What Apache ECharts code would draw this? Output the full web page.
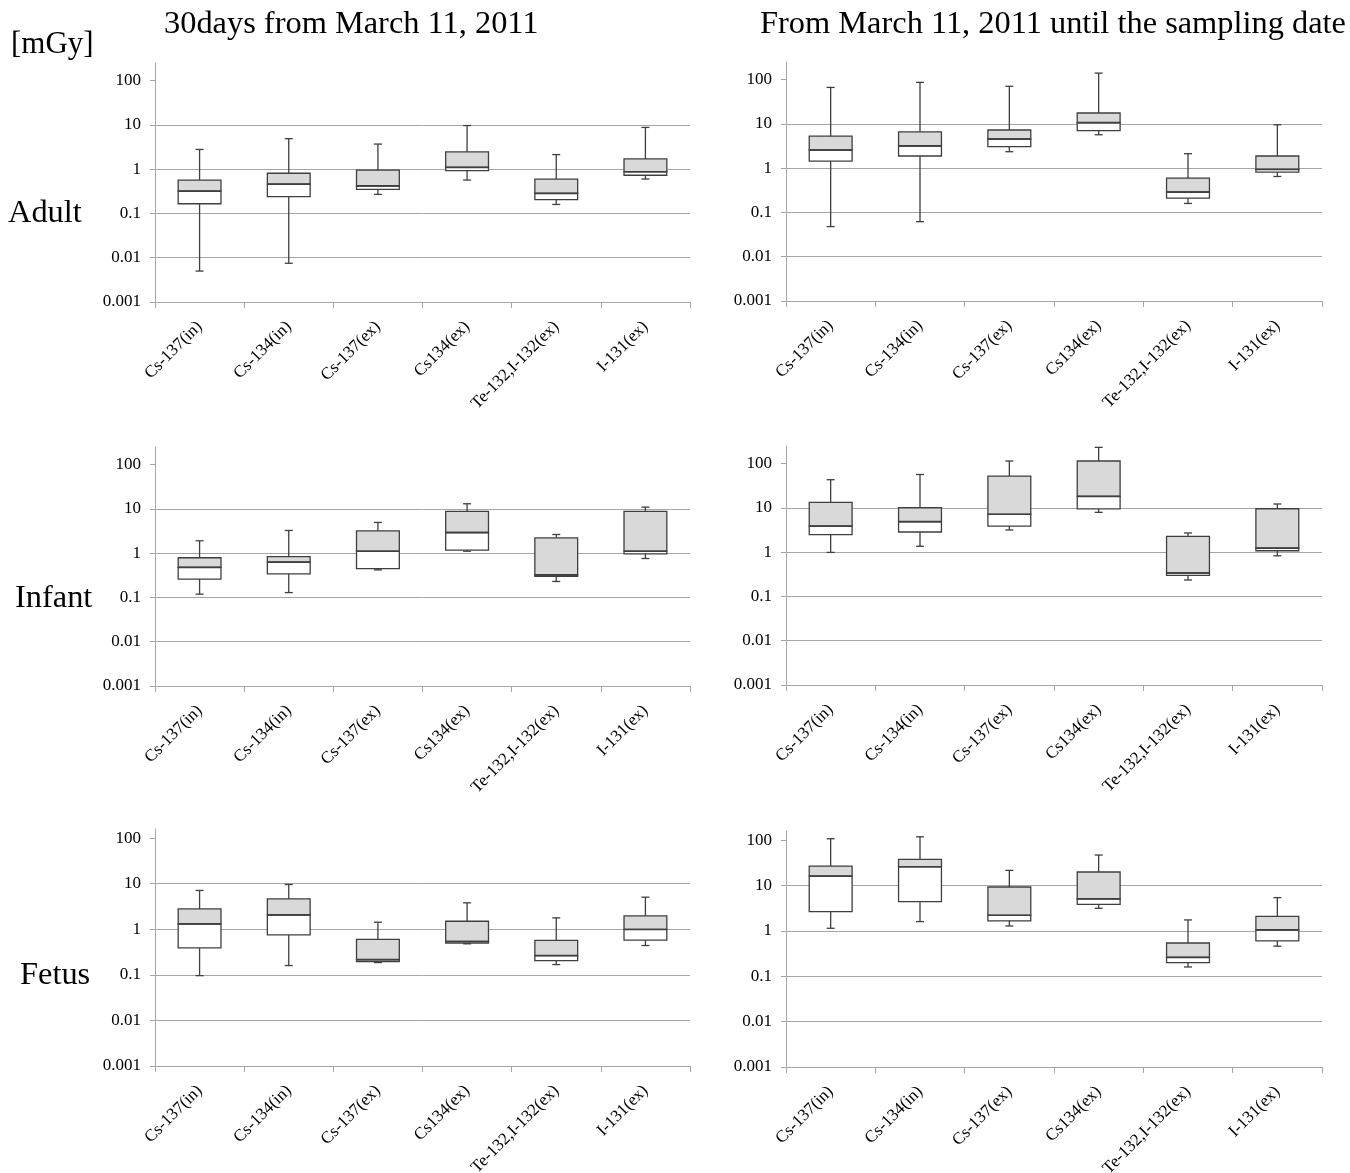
<!DOCTYPE html>
<html><head><meta charset="utf-8">
<script src="https://cdn.jsdelivr.net/npm/echarts@6/dist/echarts.min.js"></script>
<style>html,body{margin:0;padding:0;background:#fff}#c{width:1350px;height:1173px}</style>
</head><body><div id="c"></div>
<script>
const categories = ['Cs-137(in)','Cs-134(in)','Cs-137(ex)','Cs134(ex)','Te-132,I-132(ex)','I-131(ex)'];
const yTickValues = [0.001, 0.01, 0.1, 1, 10, 100];
const columnTitles = ['30days from March 11, 2011', 'From March 11, 2011 until the sampling date'];
const rowLabels = ['Adult', 'Infant', 'Fetus'];
const unitLabel = '[mGy]';

// each row: [min, Q1, median, Q3, max]
const adult30 = [
  [0.005, 0.166, 0.32, 0.57, 2.8],
  [0.0075, 0.24, 0.46, 0.81, 4.9],
  [0.27, 0.35, 0.42, 0.95, 3.7],
  [0.57, 0.93, 1.1, 2.46, 9.7],
  [0.16, 0.205, 0.285, 0.60, 2.14],
  [0.60, 0.73, 0.88, 1.71, 8.8]
];
const adultAll = [
  [0.048, 1.45, 2.58, 5.3, 67],
  [0.062, 1.89, 3.2, 6.6, 87],
  [2.36, 3.06, 4.57, 7.3, 71],
  [5.7, 7.05, 10.7, 17.7, 141],
  [0.16, 0.21, 0.29, 0.60, 2.13],
  [0.65, 0.82, 0.94, 1.89, 9.6]
];
const infant30 = [
  [0.119, 0.26, 0.48, 0.79, 1.91],
  [0.129, 0.34, 0.63, 0.84, 3.27],
  [0.42, 0.45, 1.11, 3.21, 4.96],
  [1.11, 1.17, 2.94, 8.8, 13.1],
  [0.23, 0.30, 0.325, 2.23, 2.65],
  [0.76, 0.97, 1.11, 8.8, 11.0]
];
const infantAll = [
  [0.99, 2.49, 3.9, 13.4, 43.5],
  [1.36, 2.86, 4.9, 10.1, 57],
  [3.18, 3.9, 7.2, 52.6, 115],
  [7.96, 9.5, 18.3, 115, 234],
  [0.236, 0.30, 0.34, 2.28, 2.72],
  [0.83, 1.08, 1.24, 9.6, 12.3]
];
const fetus30 = [
  [0.096, 0.39, 1.31, 2.8, 7.1],
  [0.16, 0.75, 2.07, 4.65, 9.6],
  [0.186, 0.195, 0.216, 0.60, 1.43],
  [0.48, 0.50, 0.54, 1.5, 3.8],
  [0.168, 0.206, 0.265, 0.57, 1.78],
  [0.44, 0.575, 0.99, 1.97, 5.06]
];
const fetusAll = [
  [1.14, 2.65, 16.1, 26.8, 107],
  [1.6, 4.4, 25.9, 37.6, 118],
  [1.28, 1.66, 2.2, 9.25, 21.5],
  [3.14, 3.85, 5.1, 19.8, 46.8],
  [0.16, 0.20, 0.26, 0.54, 1.74],
  [0.46, 0.60, 1.05, 2.09, 5.4]
];

const panels = [adult30, adultAll, infant30, infantAll, fetus30, fetusAll];
const grids = [
  {left: 155, top: 63, width: 535, height: 239, max: Math.pow(10, 2.4)},
  {left: 786, top: 62, width: 536, height: 239, max: Math.pow(10, 2.4)},
  {left: 155, top: 447, width: 535, height: 239, max: Math.pow(10, 2.4)},
  {left: 786, top: 446, width: 536, height: 239, max: Math.pow(10, 2.4)},
  {left: 155, top: 829, width: 535, height: 237, max: Math.pow(10, 2.2)},
  {left: 786, top: 831, width: 536, height: 236, max: Math.pow(10, 2.2)}
];

const SERIF = '"Liberation Serif", "Times New Roman", serif';
const GRID_C = '#a6a6a6';
const LINE_C = '#3f3f3f';

function renderBox(params, api) {
  const x = api.value(0);
  const pMin = api.coord([x, api.value(1)]);
  const pQ1 = api.coord([x, api.value(2)]);
  const pMed = api.coord([x, api.value(3)]);
  const pQ3 = api.coord([x, api.value(4)]);
  const pMax = api.coord([x, api.value(5)]);
  const band = api.size([1, 1], [x, 1])[0];
  const bw = band * 0.48;
  const cw = 8;
  const cx = pMed[0];
  const st = {stroke: LINE_C, lineWidth: 1.3};
  return {
    type: 'group',
    children: [
      {type: 'line', shape: {x1: cx, y1: pMin[1], x2: cx, y2: pMax[1]}, style: st},
      {type: 'line', shape: {x1: cx - cw / 2, y1: pMin[1], x2: cx + cw / 2, y2: pMin[1]}, style: st},
      {type: 'line', shape: {x1: cx - cw / 2, y1: pMax[1], x2: cx + cw / 2, y2: pMax[1]}, style: st},
      {type: 'rect', shape: {x: cx - bw / 2, y: pMed[1], width: bw, height: pQ1[1] - pMed[1]},
        style: {fill: '#ffffff', stroke: LINE_C, lineWidth: 1.3}},
      {type: 'rect', shape: {x: cx - bw / 2, y: pQ3[1], width: bw, height: pMed[1] - pQ3[1]},
        style: {fill: '#d9d9d9', stroke: LINE_C, lineWidth: 1.3}},
      {type: 'line', shape: {x1: cx - bw / 2, y1: pMed[1], x2: cx + bw / 2, y2: pMed[1]},
        style: {stroke: LINE_C, lineWidth: 1.6}}
    ]
  };
}

const option = {
  animation: false,
  backgroundColor: '#ffffff',
  title: [
    {text: unitLabel, left: 11, top: 29, fontSize: 31},
    {text: columnTitles[0], left: 164, top: 8},
    {text: columnTitles[1], left: 760, top: 8},
    {text: rowLabels[0], left: 8, top: 197},
    {text: rowLabels[1], left: 15, top: 582},
    {text: rowLabels[2], left: 20, top: 959}
  ].map(t => ({padding: 0, text: t.text, left: t.left, top: t.top,
    textStyle: {fontFamily: SERIF, fontSize: t.fontSize || 32.4, fontWeight: 'normal', color: '#000'}})),
  grid: grids.map(g => ({left: g.left, top: g.top, width: g.width, height: g.height,
    containLabel: false, outerBoundsMode: 'none'})),
  xAxis: grids.map((g, i) => ({
    type: 'category', gridIndex: i, data: categories, boundaryGap: true,
    axisLine: {show: true, lineStyle: {color: GRID_C, width: 1}},
    axisTick: {show: true, length: 6, lineStyle: {color: GRID_C}},
    axisLabel: {rotate: 45, interval: 0, margin: 22, fontFamily: SERIF, fontSize: 17, color: '#000'},
    splitLine: {show: false}
  })),
  yAxis: grids.map((g, i) => ({
    type: 'log', logBase: 10, gridIndex: i, min: yTickValues[0], max: g.max,
    axisLine: {show: true, lineStyle: {color: GRID_C, width: 1}},
    axisTick: {show: true, length: 5, customValues: yTickValues, lineStyle: {color: GRID_C}},
    axisLabel: {showMaxLabel: false, margin: 14, fontFamily: SERIF, fontSize: 17, color: '#000',
      formatter: v => String(+(+v).toPrecision(3))},
    splitLine: {show: true, showMaxLine: false, lineStyle: {color: GRID_C, width: 1}}
  })),
  series: panels.map((arr, i) => ({
    type: 'custom', xAxisIndex: i, yAxisIndex: i,
    renderItem: renderBox,
    encode: {x: 0, y: [1, 2, 3, 4, 5]},
    data: arr.map((r, j) => [j].concat(r))
  }))
};

const chart = echarts.init(document.getElementById('c'), null, {renderer: 'canvas'});
chart.setOption(option);
</script>
</body></html>
